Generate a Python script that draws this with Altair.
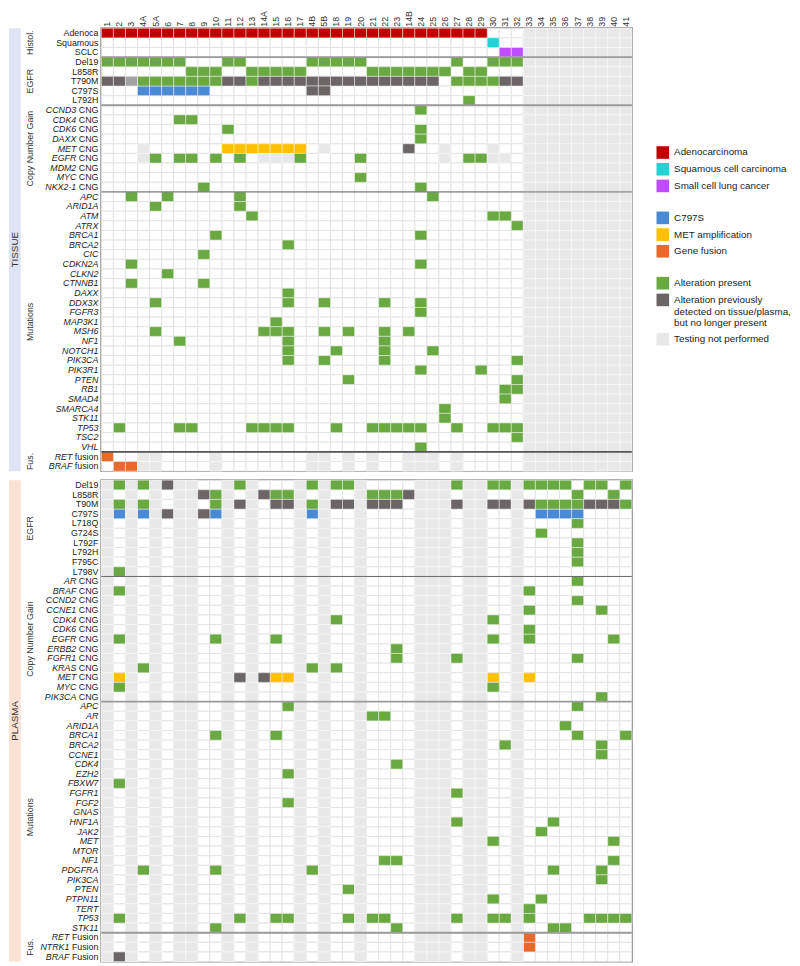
import altair as alt
import pandas as pd

FONT = "Liberation Sans"

COLS = ["1", "2", "3", "4A", "5A", "6", "7", "8", "9", "10", "11", "12", "13", "14A", "15", "16", "17",
        "4B", "5B", "18", "19", "20", "21", "22", "23", "14B", "24", "25", "26", "27", "28", "29", "30",
        "31", "32", "33", "34", "35", "36", "37", "38", "39", "40", "41"]

# status codes
LAB = {
    "A": "Adenocarcinoma", "S": "Squamous cell carcinoma", "C": "Small cell lung cancer",
    "B": "C797S", "M": "MET amplification", "F": "Gene fusion",
    "G": "Alteration present", "D": "Alteration previously", "N": "Testing not performed",
    "P": "mid",
}

T_NOT_TESTED = ["33", "34", "35", "36", "37", "38", "39", "40", "41"]
P_NOT_TESTED = ["1", "3", "5A", "7", "8", "11", "13", "17", "5B", "20", "24", "25", "26", "28", "29", "32"]
T_FUS_NOT_TESTED = ["4A", "5A", "10", "4B", "5B", "19", "21", "14B", "24", "25", "27"]

TISSUE = [
    ("", "Adenoca", {"A": ["1", "2", "3", "4A", "5A", "6", "7", "8", "9", "10", "11", "12", "13", "14A", "15", "16",
                           "17", "4B", "5B", "18", "19", "20", "21", "22", "23", "14B", "24", "25", "26", "27",
                           "28", "29"]}),
    ("", "Squamous", {"S": ["30"]}),
    ("", "SCLC", {"C": ["31", "32"]}),
    ("", "Del19", {"G": ["1", "2", "3", "4A", "5A", "6", "7", "11", "12", "4B", "5B", "18", "19", "20", "27", "30",
                         "31", "32"]}),
    ("", "L858R", {"G": ["8", "9", "10", "13", "14A", "15", "16", "17", "21", "22", "23", "14B", "24", "25", "26",
                         "28", "29"]}),
    ("", "T790M", {"G": ["4A", "5A", "6", "7", "8", "9", "10", "13", "27", "28", "29", "30"],
                   "D": ["1", "2", "11", "12", "14A", "15", "16", "17", "4B", "5B", "18", "19", "20", "21", "22",
                         "23", "14B", "24", "25", "31", "32"],
                   "P": ["3"]}),
    ("", "C797S", {"B": ["4A", "5A", "6", "7", "8", "9"], "D": ["4B", "5B"]}),
    ("", "L792H", {"G": ["28"]}),
    ("CCND3", "CNG", {"G": ["24"]}),
    ("CDK4", "CNG", {"G": ["7", "8"]}),
    ("CDK6", "CNG", {"G": ["11", "24"]}),
    ("DAXX", "CNG", {"G": ["24"]}),
    ("MET", "CNG", {"M": ["11", "12", "13", "14A", "15", "16", "17"], "D": ["14B"],
                    "N": ["4A", "5B", "26", "30"]}),
    ("EGFR", "CNG", {"G": ["5A", "7", "8", "10", "12", "17", "20", "28", "29"],
                     "N": ["4A", "14A", "15", "16", "26", "30", "31"]}),
    ("MDM2", "CNG", {}),
    ("MYC", "CNG", {"G": ["20"]}),
    ("NKX2-1", "CNG", {"G": ["9", "24"]}),
    ("APC", "", {"G": ["3", "6", "12", "25"]}),
    ("ARID1A", "", {"G": ["5A", "12"]}),
    ("ATM", "", {"G": ["13", "30", "31"]}),
    ("ATRX", "", {"G": ["32"]}),
    ("BRCA1", "", {"G": ["10", "24"]}),
    ("BRCA2", "", {"G": ["16"]}),
    ("CIC", "", {"G": ["9"]}),
    ("CDKN2A", "", {"G": ["3", "24"]}),
    ("CLKN2", "", {"G": ["6"]}),
    ("CTNNB1", "", {"G": ["3", "9"]}),
    ("DAXX", "", {"G": ["16"]}),
    ("DDX3X", "", {"G": ["5A", "16", "5B", "22", "24"]}),
    ("FGFR3", "", {"G": ["24"]}),
    ("MAP3K1", "", {"G": ["15"]}),
    ("MSH6", "", {"G": ["5A", "14A", "15", "16", "5B", "19", "22", "14B"]}),
    ("NF1", "", {"G": ["7", "16", "22"]}),
    ("NOTCH1", "", {"G": ["16", "18", "22", "25"]}),
    ("PIK3CA", "", {"G": ["16", "5B", "22", "32"]}),
    ("PIK3R1", "", {"G": ["24", "29"]}),
    ("PTEN", "", {"G": ["19", "32"]}),
    ("RB1", "", {"G": ["31", "32"]}),
    ("SMAD4", "", {"G": ["31"]}),
    ("SMARCA4", "", {"G": ["26"]}),
    ("STK11", "", {"G": ["26"]}),
    ("TP53", "", {"G": ["2", "7", "8", "13", "14A", "15", "16", "18", "21", "22", "23", "14B", "24", "27", "30",
                        "31", "32"]}),
    ("TSC2", "", {"G": ["32"]}),
    ("VHL", "", {"G": ["24"]}),
    ("RET", "fusion", {"F": ["1"], "N": T_FUS_NOT_TESTED}),
    ("BRAF", "fusion", {"F": ["2", "3"], "N": T_FUS_NOT_TESTED}),
]

PLASMA = [
    ("", "Del19", {"G": ["2", "4A", "12", "4B", "18", "19", "27", "30", "31", "33", "34", "35", "36", "38", "39",
                         "41"], "D": ["6"]}),
    ("", "L858R", {"G": ["10", "15", "16", "21", "22", "23", "37", "40"], "D": ["9", "14A", "14B"]}),
    ("", "T90M", {"G": ["2", "4A", "10", "4B", "34", "35", "36", "37", "41"],
                  "D": ["12", "15", "16", "18", "19", "21", "22", "23", "27", "30", "31", "33", "38", "39", "40"]}),
    ("", "C797S", {"B": ["2", "4A", "10", "4B", "34", "35", "36", "37"], "D": ["6", "9"]}),
    ("", "L718Q", {"G": ["37"]}),
    ("", "G724S", {"G": ["34"]}),
    ("", "L792F", {"G": ["37"]}),
    ("", "L792H", {"G": ["37"]}),
    ("", "F795C", {"G": ["37"]}),
    ("", "L798V", {"G": ["2"]}),
    ("AR", "CNG", {"G": ["37"]}),
    ("BRAF", "CNG", {"G": ["2", "33"]}),
    ("CCND2", "CNG", {"G": ["37"]}),
    ("CCNE1", "CNG", {"G": ["33", "39"]}),
    ("CDK4", "CNG", {"G": ["18", "30"]}),
    ("CDK6", "CNG", {"G": ["33"]}),
    ("EGFR", "CNG", {"G": ["2", "10", "15", "30", "33", "40"]}),
    ("ERBB2", "CNG", {"G": ["23"]}),
    ("FGFR1", "CNG", {"G": ["23", "27", "37"]}),
    ("KRAS", "CNG", {"G": ["4A", "4B", "18"]}),
    ("MET", "CNG", {"M": ["2", "15", "16", "30", "33"], "D": ["12", "14A"]}),
    ("MYC", "CNG", {"G": ["2", "30"]}),
    ("PIK3CA", "CNG", {"G": ["39"]}),
    ("APC", "", {"G": ["16", "37"]}),
    ("AR", "", {"G": ["21", "22"]}),
    ("ARID1A", "", {"G": ["36"]}),
    ("BRCA1", "", {"G": ["10", "15", "37", "41"]}),
    ("BRCA2", "", {"G": ["31", "39"]}),
    ("CCNE1", "", {"G": ["39"]}),
    ("CDK4", "", {"G": ["23"]}),
    ("EZH2", "", {"G": ["16"]}),
    ("FBXW7", "", {"G": ["2"]}),
    ("FGFR1", "", {"G": ["27"]}),
    ("FGF2", "", {"G": ["16"]}),
    ("GNAS", "", {}),
    ("HNF1A", "", {"G": ["27", "35"]}),
    ("JAK2", "", {"G": ["34"]}),
    ("MET", "", {"G": ["30", "40"]}),
    ("MTOR", "", {}),
    ("NF1", "", {"G": ["22", "23", "40"]}),
    ("PDGFRA", "", {"G": ["4A", "10", "4B", "35", "39"]}),
    ("PIK3CA", "", {"G": ["39"]}),
    ("PTEN", "", {"G": ["19"]}),
    ("PTPN11", "", {"G": ["30", "34"]}),
    ("TERT", "", {"G": ["33"]}),
    ("TP53", "", {"G": ["2", "12", "15", "16", "19", "21", "22", "27", "30", "31", "33", "38", "39", "40", "41"]}),
    ("STK11", "", {"G": ["10", "23", "35", "36"]}),
    ("RET", "Fusion", {"F": ["33"]}),
    ("NTRK1", "Fusion", {"F": ["33"]}),
    ("BRAF", "Fusion", {"D": ["2"]}),
]

# group labels: (text, row, placed at band centre?)
T_GROUPS = [("Histol.", 1, True), ("EGFR", 5, True), ("Copy Number Gain", 12, True),
            ("Mutations", 30, True), ("Fus.", 45, False)]
P_GROUPS = [("EGFR", 5, False), ("Copy Number Gain", 16, True), ("Mutations", 35, False), ("Fus.", 48, True)]

T_SEPS = {"thick": [3, 8], "thin": [17], "dark": [44]}
P_SEPS = {"thick": [23, 47], "thin": [10], "dark": []}

W = 540
RH = 9.8
ITALIC_OFFSET = {"": 0, "CNG": 22.5, "fusion": 26.5, "Fusion": 29.5}


def build_cells(rows, not_tested):
    recs = []
    for r, (_, _, cells) in enumerate(rows):
        look = {c: "N" for c in not_tested}
        for st, cl in cells.items():
            for c in cl:
                look[c] = st
        for c in COLS:
            st = look.get(c, "none")
            recs.append({"r": r, "c": c, "st": st, "lab": LAB.get(st, "")})
    return pd.DataFrame(recs)


def build_labels(rows):
    recs = []
    for r, (ital, plain, _) in enumerate(rows):
        recs.append({"r": r, "ital": ital, "plain": plain, "suf": plain if ital else ""})
    return pd.DataFrame(recs)


def legend(y, show):
    if not show:
        return None
    return alt.Legend(title=None, orient="none", legendX=565, legendY=y, symbolType="square",
                      symbolSize=165, symbolStrokeWidth=0, labelFontSize=10, labelFont=FONT,
                      labelColor="#222", rowPadding=4, padding=0, labelLimit=400, labelOffset=5,
                      labelExpr="datum.label == 'Alteration previously' ? ['Alteration previously', "
                                "'detected on tissue/plasma,', 'but no longer present'] : datum.label")


def panel(rows, not_tested, groups, seps, band_text, band_color, top_axis, show_legend):
    n = len(rows)
    h = round(n * RH, 1)
    cells = build_cells(rows, not_tested)
    labels = build_labels(rows)
    ysc = alt.Scale(domain=list(range(n)), paddingInner=0, paddingOuter=0)
    xsc = alt.Scale(domain=COLS, paddingInner=0, paddingOuter=0)
    if top_axis:
        xax = alt.Axis(orient="top", labelAngle=270, labelAlign="left", labelBaseline="middle",
                       ticks=False, domain=False, labelPadding=2, labelFontSize=9, labelFont=FONT,
                       labelColor="#333", title=None, grid=False)
    else:
        xax = None
    X = alt.X("c:N", scale=xsc, axis=xax)
    Y = alt.Y("r:O", scale=ysc, axis=None)
    base = alt.Chart(cells).encode(x=X, y=Y)

    layers = []
    layers.append(alt.Chart(pd.DataFrame({"t": [band_text]})).mark_rect(fill=band_color).encode(
        x=alt.value(-94), x2=alt.value(-82), y=alt.value(0), y2=alt.value(h)))
    layers.append(alt.Chart(pd.DataFrame({"t": [band_text]})).mark_text(
        angle=270, fontSize=10, font=FONT, color="#333", baseline="middle").encode(
        x=alt.value(-88), y=alt.value(h / 2), text="t:N"))

    layers.append(base.mark_rect(fill="white", stroke="#e3e3e3", strokeWidth=1))

    specs = [
        (["A", "S", "C"], ["#c00000", "#22d3d3", "#c04cff"], 120),
        (["B", "M", "F"], ["#4a8ad4", "#ffc000", "#e86a29"], 186.5),
        (["G", "D", "N"], ["#6aa842", "#6b6566", "#e8e8e8"], 253),
    ]
    for codes, colors, ly in specs:
        dom = [LAB[c] for c in codes]
        layers.append(
            base.transform_filter(alt.FieldOneOfPredicate(field="st", oneOf=codes))
            .mark_rect(stroke="white", strokeOpacity=0.45, strokeWidth=1)
            .encode(color=alt.Color("lab:N", scale=alt.Scale(domain=dom, range=colors),
                                    legend=legend(ly, show_legend)))
        )
    layers.append(
        base.transform_filter(alt.FieldEqualPredicate(field="st", equal="P"))
        .mark_rect(stroke="white", strokeOpacity=0.45, strokeWidth=1, color="#a3a3a3")
    )

    sep_style = {"thick": ("#9a9a9a", 2), "thin": ("#666666", 1), "dark": ("#555555", 1.6)}
    for k, idx in seps.items():
        if not idx:
            continue
        col, sw = sep_style[k]
        layers.append(
            alt.Chart(pd.DataFrame({"r": idx})).mark_rule(color=col, strokeWidth=sw).encode(
                y=alt.Y("r:O", scale=ysc, axis=None, bandPosition=0), x=alt.value(0), x2=alt.value(W))
        )

    # row labels
    lab_base = alt.Chart(labels)
    layers.append(
        lab_base.transform_filter("datum.plain != ''")
        .mark_text(align="right", baseline="middle", fontSize=9, font=FONT, color="#222")
        .encode(y=Y, x=alt.value(-3), text="plain:N")
    )
    for suf, off in ITALIC_OFFSET.items():
        layers.append(
            lab_base.transform_filter(f"datum.ital != '' && datum.suf == '{suf}'")
            .mark_text(align="right", baseline="middle", fontSize=9, font=FONT, fontStyle="italic",
                       color="#222")
            .encode(y=Y, x=alt.value(-3 - off), text="ital:N")
        )

    gdf = pd.DataFrame([{"t": t, "r": r, "mid": m} for t, r, m in groups])
    for mid, bp in [(True, 0.5), (False, 0)]:
        sub = gdf[gdf["mid"] == mid]
        if len(sub) == 0:
            continue
        layers.append(
            alt.Chart(sub).mark_text(angle=270, fontSize=9, font=FONT, color="#333", baseline="middle")
            .encode(y=alt.Y("r:O", scale=ysc, axis=None, bandPosition=bp), x=alt.value(-73), text="t:N")
        )

    return alt.layer(*layers).resolve_scale(color="independent").properties(width=W, height=h)


tissue = panel(TISSUE, T_NOT_TESTED, T_GROUPS, T_SEPS, "TISSUE", "#dfe3f4", True, True)
plasma = panel(PLASMA, P_NOT_TESTED, P_GROUPS, P_SEPS, "PLASMA", "#fbe2d5", False, False)

chart = (
    alt.vconcat(tissue, plasma, spacing=5)
    .resolve_scale(color="independent")
    .properties(padding={"left": 0, "top": -7, "right": 0, "bottom": 0})
    .configure_view(stroke="#222", strokeWidth=1.5)
)

chart.save("out.html", embed_options={"renderer": "svg", "actions": False})
